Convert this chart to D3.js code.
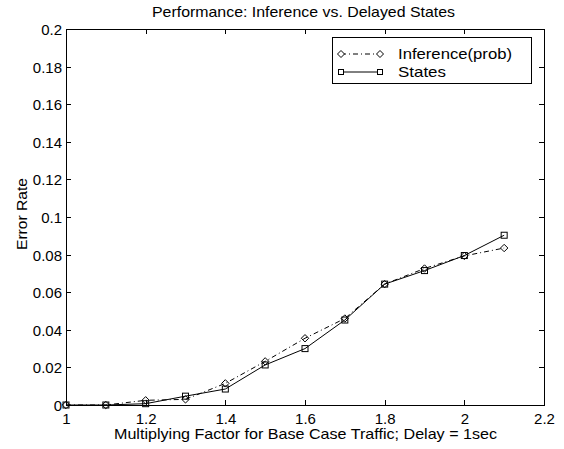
<!DOCTYPE html>
<html><head><meta charset="utf-8">
<script src="https://cdn.jsdelivr.net/npm/d3@7"></script>
<style>body{margin:0;background:#fff}svg{display:block}text{font-family:"Liberation Sans",Arial,sans-serif;fill:#000}</style>
</head><body>
<svg id="c" width="564" height="449"></svg>
<script>
const xValues = [1.0, 1.1, 1.2, 1.3, 1.4, 1.5, 1.6, 1.7, 1.8, 1.9, 2.0, 2.1];
const inferenceProb = [0, 0, 0.0025, 0.003, 0.0115, 0.0232, 0.0355, 0.046, 0.0643, 0.0726, 0.0793, 0.0835];
const statesValues = [0, 0, 0.0007, 0.0047, 0.0085, 0.0213, 0.030, 0.0452, 0.0643, 0.0715, 0.0795, 0.0903];
const xTicks = [1, 1.2, 1.4, 1.6, 1.8, 2, 2.2];
const yTicks = [0, 0.02, 0.04, 0.06, 0.08, 0.1, 0.12, 0.14, 0.16, 0.18, 0.2];
const seriesNames = ["Inference(prob)", "States"];
const titleText = "Performance: Inference vs. Delayed States";
const xLabelText = "Multiplying Factor for Base Case Traffic; Delay = 1sec";
const yLabelText = "Error Rate";

const svg = d3.select("#c");
const L = 66, R = 544, T = 29, B = 405;
const x = d3.scaleLinear().domain([1, 2.2]).range([L, R]);
const y = d3.scaleLinear().domain([0, 0.2]).range([B, T]);
const fs = 15;

// box
svg.append("rect").attr("x", L).attr("y", T).attr("width", R - L).attr("height", B - T)
  .attr("fill", "none").attr("stroke", "#000").attr("stroke-width", 1).attr("shape-rendering","crispEdges");

// axes with inward ticks
const gBottom = svg.append("g").attr("transform", `translate(0,${B})`)
  .call(d3.axisBottom(x).tickValues(xTicks).tickSizeInner(-5).tickSizeOuter(0).tickFormat(d3.format("~g")));
const gTop = svg.append("g").attr("transform", `translate(0,${T})`)
  .call(d3.axisTop(x).tickValues(xTicks).tickSizeInner(-5).tickSizeOuter(0).tickFormat(""));
const gLeft = svg.append("g").attr("transform", `translate(${L},0)`)
  .call(d3.axisLeft(y).tickValues(yTicks).tickSizeInner(-5).tickSizeOuter(0).tickFormat(d3.format("~g")));
const gRight = svg.append("g").attr("transform", `translate(${R},0)`)
  .call(d3.axisRight(y).tickValues(yTicks).tickSizeInner(-5).tickSizeOuter(0).tickFormat(""));
[gBottom, gTop, gLeft, gRight].forEach(g => {
  g.select(".domain").remove();
  g.selectAll("line").attr("stroke", "#000").attr("shape-rendering","crispEdges");
  g.selectAll("text").attr("font-size", fs).attr("font-family", '"Liberation Sans",Arial,sans-serif').attr("fill","#000");
});
gBottom.selectAll("text").attr("y", 8).attr("dy", "0.71em");
gLeft.selectAll("text").attr("x", -4).attr("dy", "0.36em");

// data lines
const line = d3.line().x((d, i) => x(xValues[i])).y(d => y(d));
svg.append("path").datum(statesValues).attr("d", line).attr("fill", "none").attr("stroke", "#000").attr("stroke-width", 1);
svg.append("path").datum(inferenceProb).attr("d", line).attr("fill", "none").attr("stroke", "#000").attr("stroke-width", 1)
  .attr("stroke-dasharray", "5,3,1,3");

const diamond = (cx, cy, r) => `M${cx},${cy - r}L${cx + r},${cy}L${cx},${cy + r}L${cx - r},${cy}Z`;
svg.append("g").selectAll("path").data(inferenceProb).join("path")
  .attr("d", (d, i) => diamond(x(xValues[i]), y(d), 3.7)).attr("fill", "none").attr("stroke", "#000").attr("stroke-width", 1);
svg.append("g").selectAll("rect").data(statesValues).join("rect")
  .attr("x", (d, i) => x(xValues[i]) - 3).attr("y", d => y(d) - 3).attr("width", 6).attr("height", 6)
  .attr("fill", "none").attr("stroke", "#000").attr("stroke-width", 1);

// legend
const lg = svg.append("g");
lg.append("rect").attr("x", 332.5).attr("y", 37.5).attr("width", 199).attr("height", 46)
  .attr("fill", "#fff").attr("stroke", "#000").attr("stroke-width", 1);
const lx1 = 341, lx2 = 380;
const legendWidths = [114, 48];
[54, 72].forEach((ly, k) => {
  lg.append("line").attr("x1", lx1).attr("x2", lx2).attr("y1", ly).attr("y2", ly).attr("stroke", "#000")
    .attr("stroke-dasharray", k === 0 ? "5,3,1,3" : null);
  if (k === 0) {
    [lx1, lx2].forEach(px => lg.append("path").attr("d", diamond(px, ly, 3.5)).attr("fill", "#fff").attr("stroke", "#000"));
  } else {
    [lx1, lx2].forEach(px => lg.append("rect").attr("x", px - 2.5).attr("y", ly - 2.5).attr("width", 5).attr("height", 5).attr("fill", "#fff").attr("stroke", "#000"));
  }
  lg.append("text").attr("x", 398).attr("y", ly).attr("dy", "0.36em").attr("font-size", fs)
    .attr("textLength", legendWidths[k]).attr("lengthAdjust", "spacingAndGlyphs").text(seriesNames[k]);
});

// titles
svg.append("text").attr("x", 303.5).attr("y", 17).attr("text-anchor", "middle").attr("font-size", fs)
  .attr("textLength", 303).attr("lengthAdjust", "spacingAndGlyphs").text(titleText);
svg.append("text").attr("x", 305.5).attr("y", 439).attr("text-anchor", "middle").attr("font-size", fs)
  .attr("textLength", 383).attr("lengthAdjust", "spacingAndGlyphs").text(xLabelText);
svg.append("text").attr("transform", "translate(27,214) rotate(-90)").attr("text-anchor", "middle").attr("font-size", fs)
  .attr("textLength", 72).attr("lengthAdjust", "spacingAndGlyphs").text(yLabelText);
</script>
</body></html>
